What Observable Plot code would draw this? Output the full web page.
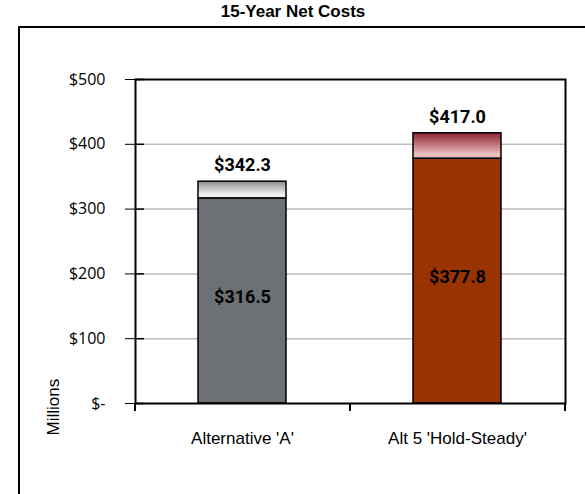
<!DOCTYPE html>
<html>
<head>
<meta charset="utf-8">
<script src="https://cdn.jsdelivr.net/npm/d3@7"></script>
<script src="https://cdn.jsdelivr.net/npm/@observablehq/plot@0.6"></script>
<style>
  html, body { margin: 0; padding: 0; background: #fff; }
  #wrap { position: relative; width: 585px; height: 494px; overflow: hidden; }
  #outer { position: absolute; left: 18px; top: 26px; width: 580px; height: 466px;
           border-left: 2px solid #000; border-top: 2px solid #000; border-bottom: 1px solid #bdbdbd; }
  #chart { position: absolute; left: 0; top: 0; }
</style>
</head>
<body>
<div id="wrap"><div id="outer"></div><div id="chart"></div></div>
<script>
// ---- data ----
const title = "15-Year Net Costs";
const categories = ["Alternative 'A'", "Alt 5 'Hold-Steady'"];
const baseValues = [316.5, 377.8];
const totalValues = [342.3, 417.0];
const yTicks = [0, 100, 200, 300, 400, 500];
const yLabel = "Millions";

// ---- styles ----
const baseColors = ["#6d7074", "#993300"];
const topFills = ["url(#gradGray)", "url(#gradRed)"];

const rows = [];
categories.forEach((c, i) => {
  rows.push({cat: c, key: c + "|base", y1: 0, y2: baseValues[i]});
  rows.push({cat: c, key: c + "|top", y1: baseValues[i], y2: totalValues[i]});
});
const keys = rows.map(d => d.key);
const keyColors = [];
categories.forEach((c, i) => { keyColors.push(baseColors[i], topFills[i]); });

const W = 585, H = 494, mL = 135, mR = 20, mT = 79, mB = 91;
const fmtMoney = v => "$" + v.toFixed(1);

const plot = Plot.plot({
  width: W, height: H,
  marginLeft: mL, marginRight: mR, marginTop: mT, marginBottom: mB,
  style: {fontFamily: "'Open Sans', sans-serif", fontSize: "16px", color: "#000", background: "transparent"},
  x: {domain: categories, paddingInner: 0.59, paddingOuter: 0.295, label: null, tickSize: 0, tickPadding: 28},
  y: {domain: [0, 500], ticks: yTicks, tickSize: 10, tickPadding: 20, label: null,
      tickFormat: d => d === 0 ? "$-" : "$" + d},
  color: {type: "ordinal", domain: keys, range: keyColors},
  marks: [
    Plot.ruleY(yTicks.slice(1, -1), {stroke: "#bdbdbd", strokeWidth: 1.5}),
    Plot.ruleY(yTicks, {stroke: "#000", strokeWidth: 1.5, insetRight: W - mL - mR - 9}),
    Plot.barY(rows, {x: "cat", y1: "y1", y2: "y2", fill: "key", stroke: "#000", strokeWidth: 1.5}),
    Plot.frame({stroke: "#000", strokeWidth: 2}),
    Plot.text(categories, {x: d => d, y: (d, i) => totalValues[i], text: (d, i) => fmtMoney(totalValues[i]),
      dy: -16, fontFamily: "Roboto, sans-serif", fontWeight: "bold", fontSize: 18, fill: "#000"}),
    Plot.text(categories, {x: d => d, y: (d, i) => baseValues[i] / 2, text: (d, i) => fmtMoney(baseValues[i]),
      dy: -4, fontFamily: "Roboto, sans-serif", fontWeight: "bold", fontSize: 18, fill: "#000"}),
    Plot.text([yLabel], {frameAnchor: "bottom-left", rotate: -90, dx: -77, dy: 32, textAnchor: "start",
      fontFamily: "'Liberation Sans', Arial, sans-serif", fontSize: 17, fill: "#000"}),
    Plot.text([title], {frameAnchor: "top", dy: -68, dx: (mR - mL) / 2, lineAnchor: "middle",
      fontFamily: "'Liberation Sans', Arial, sans-serif", fontWeight: "bold", fontSize: 17, fill: "#000"})
  ]
});

// gradient definitions for the top segments
const svg = d3.select(plot);
const defs = svg.insert("defs", ":first-child");
const g1 = defs.append("linearGradient").attr("id", "gradGray").attr("x1", 0).attr("y1", 0).attr("x2", 0).attr("y2", 1);
g1.append("stop").attr("offset", "0%").attr("stop-color", "#8a8c8f");
g1.append("stop").attr("offset", "80%").attr("stop-color", "#f3f3f3");
g1.append("stop").attr("offset", "100%").attr("stop-color", "#e6e6e6");
const g2 = defs.append("linearGradient").attr("id", "gradRed").attr("x1", 0).attr("y1", 0).attr("x2", 0).attr("y2", 1);
g2.append("stop").attr("offset", "0%").attr("stop-color", "#8c2331");
g2.append("stop").attr("offset", "85%").attr("stop-color", "#ebc0c0");
g2.append("stop").attr("offset", "100%").attr("stop-color", "#e3b3b3");

// category labels in Arial-like face
svg.selectAll("g[aria-label='x-axis tick label'] text, g[aria-label='x-axis'] text")
  .style("font-family", "'Liberation Sans', Arial, sans-serif").style("font-size", "17px");

// x-axis ticks at band boundaries, from the x scale
const xs = plot.scale("x");
const r = xs.range;
const bounds = [r[0], (r[0] + r[1]) / 2, r[1]];
const y0 = H - mB;
svg.append("g").selectAll("line").data(bounds).join("line")
  .attr("x1", d => d).attr("x2", d => d).attr("y1", y0).attr("y2", y0 + 8)
  .attr("stroke", "#000").attr("stroke-width", 2);

document.getElementById("chart").append(plot);
</script>
</body>
</html>
